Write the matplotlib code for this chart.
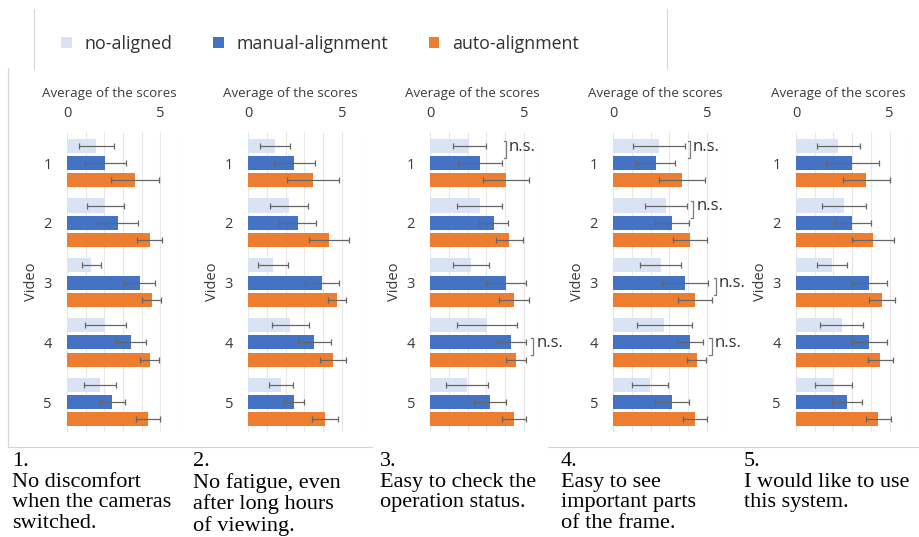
import matplotlib
matplotlib.use("Agg")
import matplotlib.pyplot as plt
from matplotlib.lines import Line2D
import numpy as np

W, H = 919, 537
plt.rcParams['font.family'] = ['Open Sans', 'DejaVu Sans']

videos = ["1", "2", "3", "4", "5"]
series_names = ["no-aligned", "manual-alignment", "auto-alignment"]
colors = ["#dae3f3", "#4472c4", "#ed7d31"]

# values per panel (question), per video
no_aligned = [
    [1.57, 2.05, 1.30, 2.05, 1.75],
    [1.43, 2.18, 1.34, 2.25, 1.73],
    [2.09, 2.64, 2.18, 3.02, 1.98],
    [2.46, 2.82, 2.54, 2.73, 1.96],
    [2.27, 2.57, 1.91, 2.45, 2.00],
]
no_aligned_err = [
    [0.92, 1.00, 0.50, 1.09, 0.86],
    [0.82, 1.00, 0.80, 1.00, 0.64],
    [0.87, 1.20, 0.97, 1.59, 1.13],
    [1.40, 1.12, 1.10, 1.46, 0.98],
    [1.14, 1.16, 0.80, 1.15, 1.00],
]
manual = [
    [2.05, 2.71, 3.89, 3.41, 2.43],
    [2.46, 2.64, 3.93, 3.54, 2.46],
    [2.66, 3.38, 4.05, 4.34, 3.20],
    [2.27, 3.13, 3.84, 4.11, 3.13],
    [3.02, 3.02, 3.93, 3.93, 2.75],
]
manual_err = [
    [1.10, 1.10, 0.82, 0.80, 0.68],
    [1.10, 1.00, 0.90, 0.90, 0.54],
    [1.20, 0.78, 1.09, 0.78, 0.85],
    [1.04, 0.92, 1.25, 0.71, 0.92],
    [1.40, 1.00, 0.94, 0.94, 0.80],
]
auto = [
    [3.63, 4.43, 4.52, 4.43, 4.34],
    [3.45, 4.32, 4.73, 4.55, 4.11],
    [4.05, 4.23, 4.48, 4.57, 4.48],
    [3.66, 4.11, 4.38, 4.46, 4.38],
    [3.75, 4.14, 4.59, 4.50, 4.41],
]
auto_err = [
    [1.30, 0.66, 0.52, 0.50, 0.66],
    [1.40, 1.05, 0.48, 0.70, 0.70],
    [1.24, 0.73, 0.80, 0.53, 0.64],
    [1.23, 0.90, 0.90, 0.50, 0.63],
    [1.25, 1.12, 0.68, 0.67, 0.67],
]

# n.s. brackets: (panel index, video index, upper series, lower series, x position)
ns_marks = [
    (2, 0, 0, 1, 4.05),
    (2, 3, 1, 2, 5.50),
    (3, 0, 0, 1, 4.10),
    (3, 1, 0, 1, 4.28),
    (3, 2, 1, 2, 5.48),
    (3, 3, 1, 2, 5.26),
]

captions = [
    "1.\nNo discomfort\nwhen the cameras\nswitched.",
    "2.\nNo fatigue, even\nafter long hours\nof viewing.",
    "3.\nEasy to check the\noperation status.",
    "4.\nEasy to see\nimportant parts\nof the frame.",
    "5.\nI would like to use\nthis system.",
]

fig = plt.figure(figsize=(W / 100, H / 100), dpi=100)
fig.patch.set_facecolor("white")

zero_px = [67, 248.3, 430.3, 613.3, 796]
unit_px = 18.7
top_px, bot_px = 132, 432
caption_x = [12, 193, 380, 561, 744]

all_vals = [no_aligned, manual, auto]
all_errs = [no_aligned_err, manual_err, auto_err]
offsets = [-0.29, 0.0, 0.29]
ypos = np.arange(len(videos))
txt_c = "#3a3a3a"

handles = None
for p in range(5):
    ax = fig.add_axes([zero_px[p] / W, (H - bot_px) / H,
                       6 * unit_px / W, (bot_px - top_px) / H])
    hs = []
    for s in range(3):
        b = ax.barh(ypos + offsets[s], all_vals[s][p], height=0.235,
                    color=colors[s], xerr=all_errs[s][p],
                    error_kw=dict(ecolor="#666666", elinewidth=0.9,
                                  capsize=2, capthick=0.9),
                    zorder=3, label=series_names[s])
        hs.append(b)
    if handles is None:
        handles = hs
    ax.set_xlim(0, 6)
    ax.set_ylim(4.5, -0.52)
    ax.set_xticks([0, 5])
    ax.set_xticks(np.arange(0, 7, 1), minor=True)
    ax.grid(True, axis="x", which="both", color="#e8e8e8", linewidth=0.8, zorder=0)
    ax.xaxis.tick_top()
    ax.xaxis.set_label_position("top")
    ax.set_xlabel("Average of the scores", fontsize=9.6, color=txt_c)
    ax.xaxis.set_label_coords(0.375, 1.118)
    ax.tick_params(axis="x", which="both", length=0, labelsize=10.5, colors=txt_c, pad=8)
    ax.set_yticks(ypos)
    ax.set_yticklabels(videos)
    ax.tick_params(axis="y", length=0, labelsize=10.5, colors=txt_c, pad=11)
    ax.set_ylabel("Video", fontsize=10.5, color=txt_c, labelpad=3)
    for sp in ax.spines.values():
        sp.set_visible(False)

    for (pp, v, s1, s2, xb) in ns_marks:
        if pp != p:
            continue
        y1 = v + offsets[s1] - 0.08
        y2 = v + offsets[s2] - 0.08
        ax.plot([xb - 0.12, xb, xb, xb - 0.12], [y1, y1, y2, y2],
                color="#7a7a7a", linewidth=0.9, clip_on=False, zorder=5)
        ax.text(xb + 0.16, (y1 + y2) / 2 - 0.05, "n.s.", fontsize=12,
                color="#303030", va="center", ha="left", clip_on=False)

    fig.text(caption_x[p] / W, 1 - 452 / H, captions[p], ha="left", va="top",
             fontsize=16, family="Liberation Serif", color="#000000",
             linespacing=1.12)

leg = fig.legend(handles, series_names, loc="center", ncol=3,
                 bbox_to_anchor=(320 / W, 1 - 44 / H), frameon=False,
                 fontsize=12.8, handlelength=0.6, handleheight=0.6,
                 handletextpad=0.7, columnspacing=2.3, labelcolor="#303030")

# frame lines of the original screenshot
line_c = "#d6d6d6"
fig.add_artist(Line2D([34 / W, 34 / W], [1 - 9 / H, 1 - 69 / H], color=line_c, lw=0.8))
fig.add_artist(Line2D([667 / W, 667 / W], [1 - 9 / H, 1 - 69 / H], color=line_c, lw=0.8))
fig.add_artist(Line2D([8 / W, 8 / W], [1 - 68 / H, 1 - 447 / H], color=line_c, lw=0.8))
fig.add_artist(Line2D([8 / W, 372 / W], [1 - 447 / H, 1 - 447 / H], color=line_c, lw=0.8))
fig.add_artist(Line2D([548 / W, 919 / W], [1 - 447 / H, 1 - 447 / H], color=line_c, lw=0.8))

fig.savefig("out.png", dpi=100, facecolor="white")
